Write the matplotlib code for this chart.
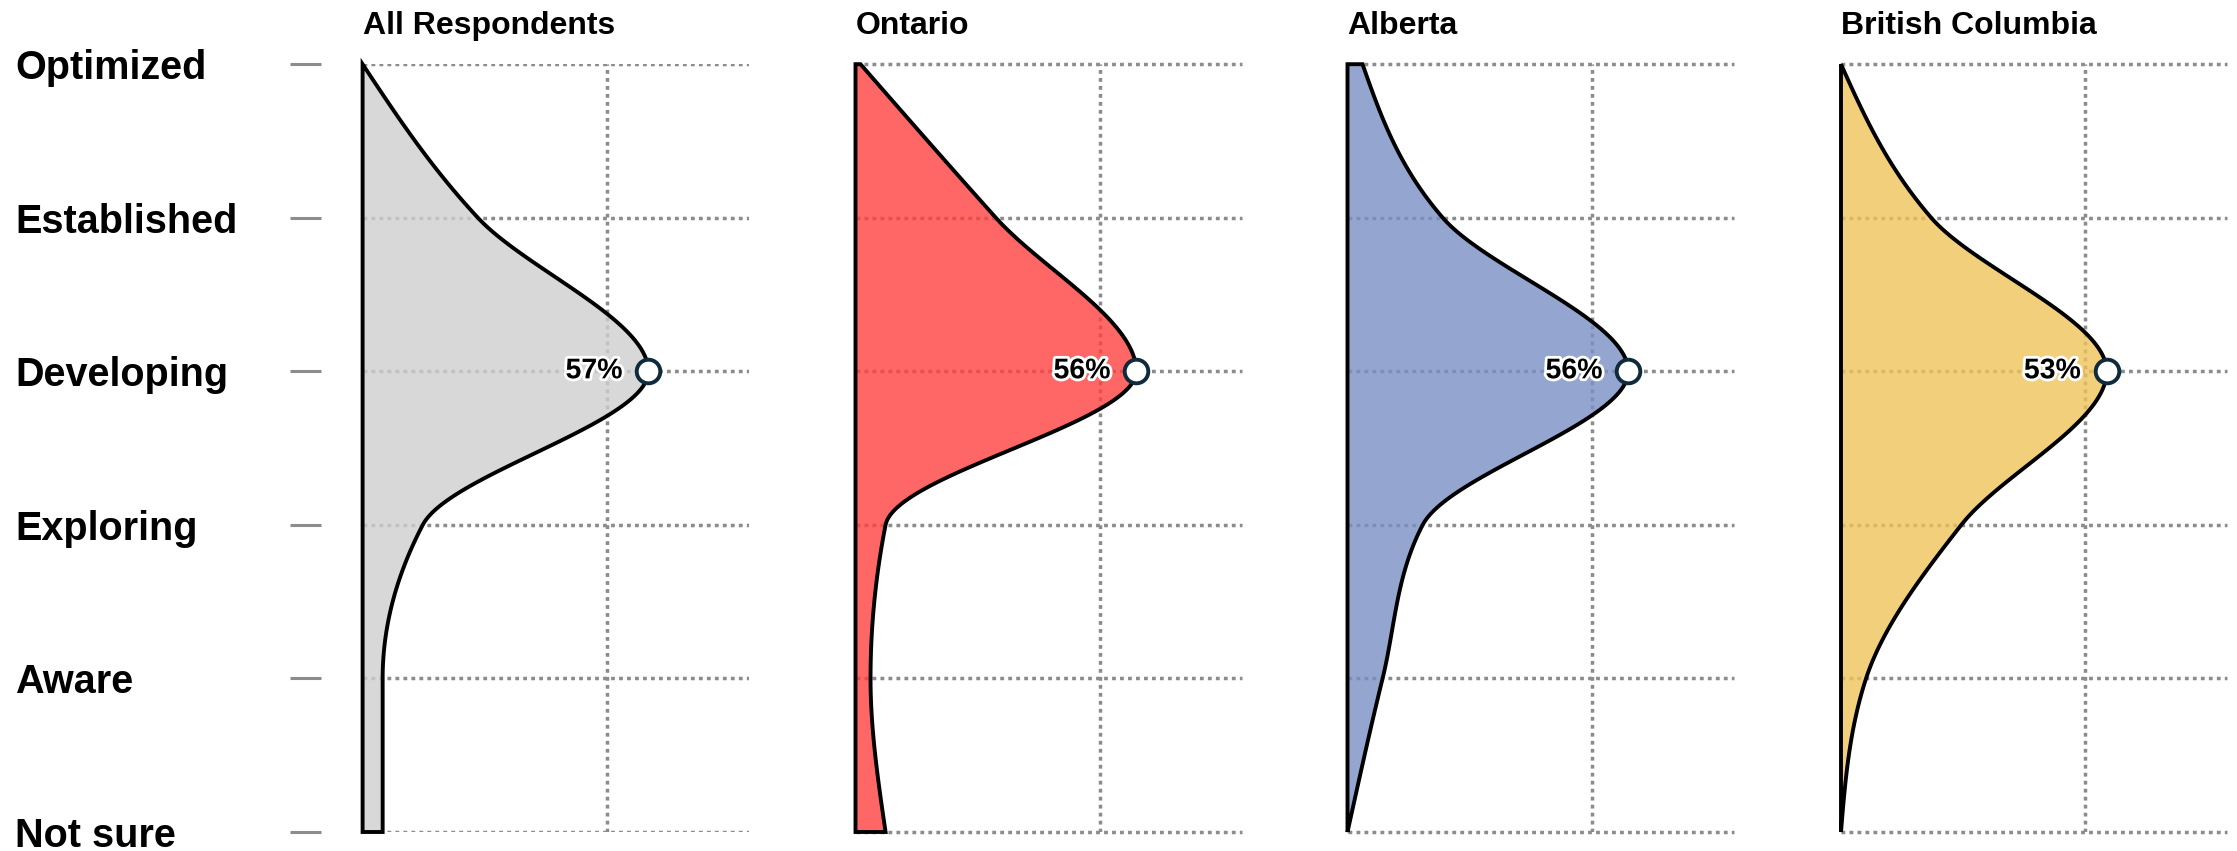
import numpy as np
import matplotlib
matplotlib.use('Agg')
import matplotlib.pyplot as plt
import matplotlib.patheffects as pe
from matplotlib.patches import Polygon
from matplotlib.colors import to_rgba

plt.rcParams['font.family'] = ['Liberation Sans', 'DejaVu Sans']

# maturity levels, top to bottom
levels = ['Optimized', 'Established', 'Developing', 'Exploring', 'Aware', 'Not sure']
regions = ['All Respondents', 'Ontario', 'Alberta', 'British Columbia']

# share of respondents (%) per level
all_resp = [0, 23, 57, 12, 4, 4]
ontario = [1, 28, 56, 6, 3, 6]
alberta = [3, 19, 56, 15, 7, 0]
bc = [0, 18, 53, 24, 5, 0]
series = [all_resp, ontario, alberta, bc]

# fill colours (drawn at alpha 0.8 over the grid)
fills = ['#cfcfcf', '#ff4040', '#7990c5', '#efc459']


def monotone(v, n=80):
    # d3-style monotone cubic (Steffen) through the level points
    y = np.arange(len(v), dtype=float)
    v = np.asarray(v, float)
    h = np.diff(y)
    s = np.diff(v) / h
    m = np.zeros_like(v)
    for i in range(1, len(v) - 1):
        p = (s[i - 1] * h[i] + s[i] * h[i - 1]) / (h[i - 1] + h[i])
        m[i] = (np.sign(s[i - 1]) + np.sign(s[i])) * min(abs(s[i - 1]), abs(s[i]), 0.5 * abs(p))
    m[0] = (3 * s[0] - m[1]) / 2
    m[-1] = (3 * s[-1] - m[-2]) / 2
    ys, xs = [], []
    t = np.linspace(0, 1, n)
    for i in range(len(v) - 1):
        h00 = 2 * t**3 - 3 * t**2 + 1
        h10 = t**3 - 2 * t**2 + t
        h01 = -2 * t**3 + 3 * t**2
        h11 = t**3 - t**2
        xs.append(h00 * v[i] + h10 * h[i] * m[i] + h01 * v[i + 1] + h11 * h[i] * m[i + 1])
        ys.append(y[i] + t * h[i])
    return np.concatenate(ys), np.concatenate(xs)


W, H = 2237, 851
fig = plt.figure(figsize=(W / 100, H / 100), dpi=100)

lefts = [362.6, 855.5, 1347.5, 1841.0]
top_px, bot_px, width_px = 64.2, 832.0, 386.0
grid_kw = dict(color='#8c8c8c', linewidth=2.5, linestyle=(0, (1.1, 1.2)))

for k, (name, vals, fc) in enumerate(zip(regions, series, fills)):
    ax = fig.add_axes([lefts[k] / W, 1 - bot_px / H, width_px / W, (bot_px - top_px) / H])
    ax.set_xlim(0, 77)
    ax.set_ylim(len(levels) - 1, 0)
    for sp in ax.spines.values():
        sp.set_visible(False)

    ax.set_xticks([48.7])
    ax.tick_params(axis='x', bottom=False, labelbottom=False)
    ax.set_yticks(range(len(levels)))
    ax.set_axisbelow(True)
    ax.grid(True, **grid_kw)
    for gl in ax.get_ygridlines():
        gl.set_clip_on(False)

    if k == 0:
        ax.set_yticklabels(levels)
        ax.spines['left'].set_position(('outward', 30))
        ax.tick_params(axis='y', length=22.3, width=2.2, color='#8c8c8c',
                       pad=198, labelsize=28.5)
        for lbl in ax.get_yticklabels():
            lbl.set_fontweight('bold')
            lbl.set_ha('left')
    else:
        ax.tick_params(axis='y', left=False, labelleft=False)

    yy, xx = monotone(vals)
    ax.fill_betweenx(yy, 0, xx, facecolor=to_rgba(fc, 0.8), linewidth=0, zorder=2)
    outline = np.column_stack([np.r_[0, xx, 0, 0], np.r_[0, yy, yy[-1], 0]])
    ax.add_patch(Polygon(outline, closed=True, fill=False, edgecolor='black',
                         linewidth=2.8, joinstyle='miter', zorder=3, clip_on=False))

    peak = int(np.argmax(vals))
    ax.plot(vals[peak], peak, 'o', ms=17, mfc='white', mec='#0e2a3b', mew=2.8,
            zorder=5, clip_on=False)
    ax.annotate(f'{vals[peak]}%', xy=(vals[peak], peak), xytext=(-18.5, 0),
                textcoords='offset points', ha='right', va='center',
                fontsize=20.5, fontweight='bold', zorder=6,
                path_effects=[pe.withStroke(linewidth=4, foreground='white')])

    ax.set_title(name, loc='left', pad=22, fontsize=23, fontweight='bold')

fig.savefig('out.png', dpi=100)
